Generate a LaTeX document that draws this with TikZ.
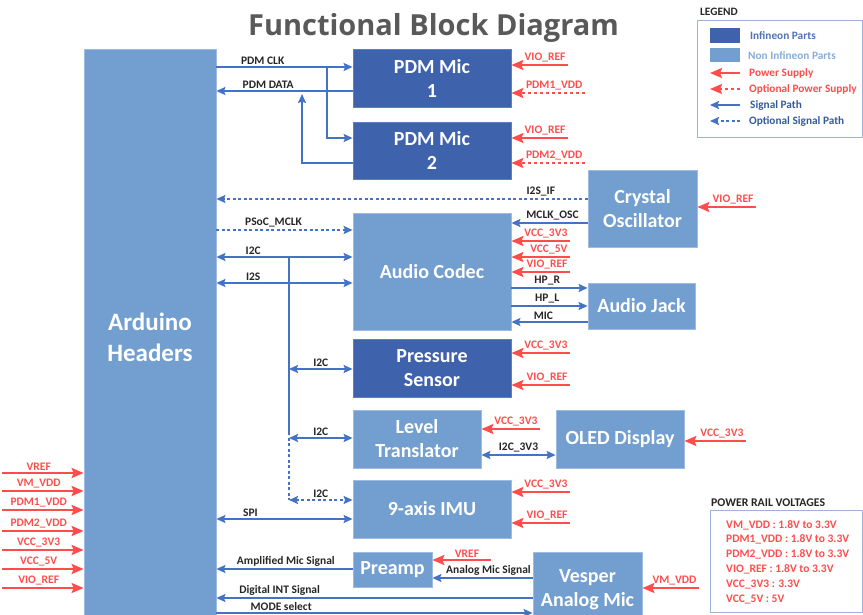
\documentclass[tikz,border=0pt]{standalone}
\usepackage{fontspec}
\setmainfont{Carlito}
\newfontfamily\titlefont{Open Sans}
\usetikzlibrary{arrows.meta}
\usetikzlibrary{positioning}
\definecolor{ifxblue}{HTML}{3E62AC}
\definecolor{ifxedge}{HTML}{5B80C4}
\definecolor{nifxblue}{HTML}{729FCF}
\definecolor{nifxedge}{HTML}{9DBBE3}
\definecolor{sigblue}{HTML}{4472C4}
\definecolor{pwrred}{HTML}{FF4D4D}
\definecolor{lbltext}{HTML}{262626}
\definecolor{titlegray}{HTML}{595959}
\definecolor{legedge}{HTML}{9FB2D6}
\tikzset{box/.style = {align=center, text=white, inner sep=0,
                       font=\fontsize{20}{24}\selectfont\bfseries}}
\tikzset{ifx/.style = {box, fill=ifxblue, draw=ifxedge, line width=.8pt}}
\tikzset{nifx/.style = {box, fill=nifxblue, draw=nifxedge, line width=.8pt}}
\tikzset{sig/.style = {draw=sigblue, line width=1.8pt,
                       -{Stealth[length=9pt,width=8pt,inset=1.5pt]}}}
\tikzset{bisig/.style = {sig, {Stealth[length=9pt,width=8pt,inset=1.5pt]}-{Stealth[length=9pt,width=8pt,inset=1.5pt]}}}
\tikzset{osig/.style = {sig, dash pattern=on 3pt off 2.5pt}}
\tikzset{obisig/.style = {bisig, dash pattern=on 3pt off 2.5pt}}
\tikzset{pwr/.style = {draw=pwrred, line width=2.2pt,
                       -{Stealth[length=12pt,width=10pt,inset=2pt]}}}
\tikzset{opwr/.style = {pwr, dash pattern=on 3.5pt off 2.5pt}}
\tikzset{lbl/.style = {above, inner sep=1.5pt, text=lbltext,
                       font=\fontsize{11.5}{13}\selectfont\bfseries}}
\tikzset{plbl/.style = {inner sep=1.5pt, text=pwrred,
                        font=\fontsize{11.5}{13}\selectfont\bfseries}}
% \supply[style]{node}{y}{x of tail}{label}
\newcommand\supply[5][pwr]{%
  \draw[#1] (#4,#3) -- node[plbl, above left, pos=0]{#5} (#2.east |- 0,#3);}

\begin{document}
\begin{tikzpicture}[x=1pt, y=-1pt]
  \useasboundingbox (0,0) rectangle (863,615);
  \node[anchor=base, text=titlegray, font=\titlefont\fontsize{29}{34}\selectfont\bfseries]
    (title) at (433.5,36) {Functional Block Diagram};

  \node[nifx, minimum width=132, minimum height=576,
        font=\fontsize{25}{31}\selectfont\bfseries] (ard) at (150,337) {Arduino\\Headers};
  \node[ifx, minimum width=158, minimum height=58] (pdm1) at (432,78) {PDM Mic\\1};
  \node[ifx, minimum width=158, minimum height=57] (pdm2) at (432,150.5) {PDM Mic\\2};
  \node[nifx, minimum width=109, minimum height=77] (xtal) at (642.5,208.5) {Crystal\\Oscillator};
  \node[nifx, minimum width=158, minimum height=117] (codec) at (432,271.5) {Audio Codec};
  \node[nifx, minimum width=107, minimum height=46] (jack) at (641.5,306) {Audio Jack};
  \node[ifx, minimum width=158, minimum height=58] (press) at (432,368) {Pressure\\Sensor};
  \node[nifx, minimum width=128, minimum height=58] (lvl) at (417,439) {Level\\Translator};
  \node[nifx, minimum width=128, minimum height=58] (oled) at (620,439) {OLED Display};
  \node[nifx, minimum width=158, minimum height=58] (imu) at (432,509) {9-axis IMU};
  \node[nifx, minimum width=79, minimum height=35] (pre) at (392.5,569.5) {Preamp};
  \node[nifx, minimum width=109, minimum height=75] (vesp) at (587.5,589.5) {Vesper\\Analog Mic};

  \draw[sig] (ard.east |- 0,67) -- node[lbl, pos=.34]{PDM CLK} (pdm1.west |- 0,67);
  \coordinate (clkbr) at (327,67);
  \draw[sig] (clkbr) |- (pdm2.west |- 0,138);
  \draw[sig] (pdm1.west |- 0,91) -- node[lbl, pos=.62]{PDM DATA} (ard.east |- 0,91);
  \coordinate (databr) at (302,94);
  \draw[sig] (pdm2.west |- 0,163) -| (databr);
  \supply{pdm1}{65}{568}{VIO\_REF}
  \supply[opwr]{pdm1}{93}{585}{PDM1\_VDD}
  \supply{pdm2}{138}{568}{VIO\_REF}
  \supply[opwr]{pdm2}{163}{585}{PDM2\_VDD}

  \draw[osig] (xtal.west |- 0,199) -- node[lbl, pos=.126]{I2S\_IF} (ard.east |- 0,199);
  \draw[sig] (xtal.west |- 0,223) -- node[lbl, pos=.46]{MCLK\_OSC} (codec.east |- 0,223);
  \supply{xtal}{207}{756}{VIO\_REF}

  \draw[osig] (ard.east |- 0,230) -- node[lbl, pos=.42]{PSoC\_MCLK} (codec.west |- 0,230);
  \draw[bisig] (ard.east |- 0,257) -- node[lbl, pos=.27]{I2C} (codec.west |- 0,257);
  \draw[bisig] (ard.east |- 0,283) -- node[lbl, pos=.27]{I2S} (codec.west |- 0,283);
  \supply{codec}{241}{570}{VCC\_3V3}
  \supply{codec}{257}{570}{VCC\_5V}
  \supply{codec}{272}{570}{VIO\_REF}
  \draw[sig] (codec.east |- 0,288) -- node[lbl, pos=.47]{HP\_R} (jack.west |- 0,288);
  \draw[sig] (codec.east |- 0,306) -- node[lbl, pos=.47]{HP\_L} (jack.west |- 0,306);
  \draw[sig] (jack.west |- 0,322) -- node[lbl, pos=.58]{MIC} (codec.east |- 0,322);

  \coordinate (bustop) at (289,257);
  \coordinate (busmid) at (289,432);
  \coordinate (busbot) at (289,500);
  \draw[sig, -] (bustop) -- (busmid);
  \draw[osig, -] (busmid) -- (busbot);
  \draw[bisig] (bustop |- 0,369) -- node[lbl]{I2C} (press.west |- 0,369);
  \supply{press}{353}{570}{VCC\_3V3}
  \supply{press}{385}{570}{VIO\_REF}
  \draw[bisig] (bustop |- 0,438) -- node[lbl]{I2C} (lvl.west |- 0,438);
  \supply{lvl}{429}{540}{VCC\_3V3}
  \draw[bisig] (lvl.east |- 0,455) -- node[lbl]{I2C\_3V3} (oled.west |- 0,455);
  \supply{oled}{441}{746}{VCC\_3V3}
  \draw[obisig] (busbot) -- node[lbl]{I2C} (imu.west |- busbot);
  \draw[bisig] (ard.east |- 0,519) -- node[lbl, pos=.25]{SPI} (imu.west |- 0,519);
  \supply{imu}{492}{570}{VCC\_3V3}
  \supply{imu}{523}{570}{VIO\_REF}

  \draw[sig] (pre.west |- 0,569) -- node[lbl, pos=.49]{Amplified Mic Signal} (ard.east |- 0,569);
  \draw[pwr] (491,560) -- node[plbl, above, pos=.41]{VREF} (pre.east |- 0,560);
  \draw[sig] (vesp.west |- 0,578) -- node[lbl, pos=.44]{Analog Mic Signal} (pre.east |- 0,578);
  \draw[sig] (vesp.west |- 0,598) -- node[lbl, pos=.80]{Digital INT Signal} (ard.east |- 0,598);
  \draw[sig] (ard.east |- 0,613) -- node[lbl, pos=.205]{MODE select} (vesp.west |- 0,613);
  \supply{vesp}{588}{699}{VM\_VDD}

  \foreach \y/\t in {473/VREF, 491/VM\_VDD, 510/PDM1\_VDD, 531/PDM2\_VDD,
                     550/VCC\_3V3, 569/VCC\_5V, 588/VIO\_REF}
    \draw[pwr] (2,\y) -- node[plbl, above, pos=.45]{\t} (ard.west |- 0,\y);

  \node[anchor=west, inner sep=0, text=lbltext, font=\fontsize{11.3}{13}\selectfont\bfseries]
    (legtitle) at (700,12) {LEGEND};
  \draw[legedge, fill=white, line width=.8pt] (697,20) rectangle (862.5,137);
  \fill[ifxblue] (710,28) rectangle (740,43);
  \fill[nifxblue] (710,48) rectangle (740,62);
  \draw[pwr] (740,73) -- (710,73);
  \draw[opwr] (740,89) -- (710,89);
  \draw[sig] (740,105) -- (710,105);
  \draw[osig] (740,121) -- (710,121);
  \begin{scope}[every node/.style={anchor=west, inner sep=0,
                                   font=\fontsize{11.3}{13}\selectfont\bfseries}]
    \node[text=ifxblue!90!white] (legifx) at (750,36) {Infineon Parts};
    \node[text=nifxblue!85!white] (legnifx) at (748,56) {Non Infineon Parts};
    \node[text=pwrred] (legpwr) at (749,73) {Power Supply};
    \node[text=pwrred] (legopwr) at (749,89) {Optional Power Supply};
    \node[text=sigblue!80!black] (legsig) at (750,105) {Signal Path};
    \node[text=sigblue!80!black] (legosig) at (749,121) {Optional Signal Path};
  \end{scope}

  \node[anchor=west, inner sep=0, text=lbltext, font=\fontsize{11.8}{13}\selectfont\bfseries]
    (railtitle) at (711,503) {POWER RAIL VOLTAGES};
  \draw[legedge, fill=white, line width=.8pt] (710,510) rectangle (862.5,612);
  \node[anchor=north west, align=left, inner sep=0, text=pwrred,
        font=\fontsize{11.5}{14.8}\selectfont\bfseries] (rails) at (726,520)
    {VM\_VDD : 1.8V to 3.3V\\PDM1\_VDD : 1.8V to 3.3V\\PDM2\_VDD : 1.8V to 3.3V\\
     VIO\_REF : 1.8V to 3.3V\\VCC\_3V3 : 3.3V\\VCC\_5V : 5V};
\end{tikzpicture}
\end{document}
